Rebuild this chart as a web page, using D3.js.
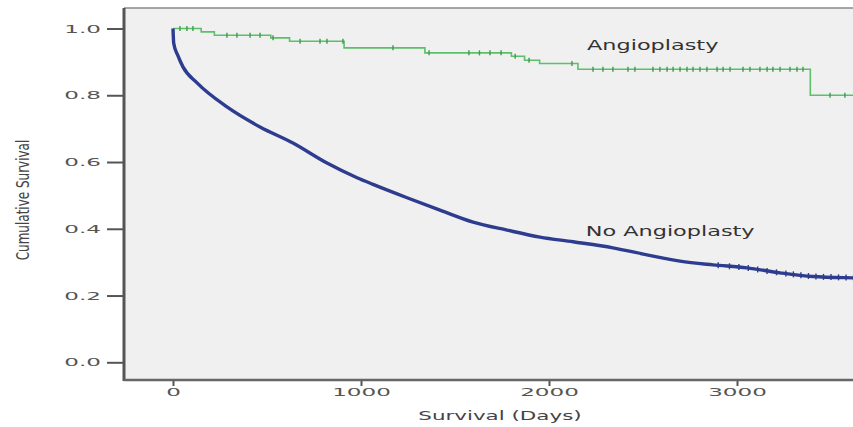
<!DOCTYPE html>
<html>
<head>
<meta charset="utf-8">
<script src="https://cdn.jsdelivr.net/npm/d3@7/dist/d3.min.js"></script>
<style>
  html, body { margin: 0; padding: 0; background: #fff; }
  svg { display: block; }
  text { font-family: "DejaVu Sans", sans-serif; }
</style>
</head>
<body>
<svg id="chart" width="853" height="427"></svg>
<script>
// Kaplan-Meier survival estimates (days, cumulative survival)
const angioplastyDays   = [0, 150, 220, 520, 620, 910, 1340, 1800, 1870, 1950, 2154, 3390, 3700];
const angioplastySurv   = [1.0, 0.99, 0.98, 0.972, 0.962, 0.942, 0.927, 0.917, 0.905, 0.895, 0.878, 0.80, 0.80];
const angioplastyCensor = [37, 74, 106, 287, 340, 410, 463, 532, 676, 782, 819, 904, 1170, 1362, 1574, 1630,
  1686, 1745, 1820, 1894, 2122, 2234, 2287, 2340, 2420, 2457, 2553, 2590, 2628, 2660, 2697, 2734, 2766,
  2803, 2840, 2894, 2926, 2963, 3032, 3069, 3122, 3160, 3191, 3229, 3282, 3319, 3351, 3495, 3574];

const noAngioDays = [0, 4, 25, 53, 128, 287, 463, 638, 819, 979, 1064, 1245, 1420, 1596, 1777, 1952,
  2128, 2340, 2521, 2697, 2872, 3053, 3229, 3404, 3617, 3700];
const noAngioSurv = [1.0, 0.955, 0.92, 0.885, 0.837, 0.765, 0.705, 0.657, 0.597, 0.553, 0.533, 0.493,
  0.456, 0.42, 0.396, 0.375, 0.361, 0.343, 0.322, 0.303, 0.292, 0.283, 0.268, 0.257, 0.253, 0.252];
const noAngioCensor = [4, 12, 2900, 2960, 3010, 3060, 3110, 3160, 3210, 3260, 3300, 3340, 3380, 3420,
  3460, 3500, 3540, 3580, 3620];

const yTicks = [0, 0.2, 0.4, 0.6, 0.8, 1.0];
const xTicks = [0, 1000, 2000, 3000];
const seriesLabels = ["Angioplasty", "No Angioplasty"];
const labelPos = [[2202, 0.936], [2195, 0.378]];

const svg = d3.select("#chart");
const plot = { left: 124, top: 8, right: 900, bottom: 380 };

const x = d3.scaleLinear().domain([0, 4000]).range([173, 925]);
const y = d3.scaleLinear().domain([0, 1]).range([362.3, 28.5]);

// plot background
svg.append("rect")
  .attr("x", plot.left).attr("y", plot.top)
  .attr("width", plot.right - plot.left).attr("height", plot.bottom - plot.top)
  .attr("fill", "#f0f0f0");

// top frame line
svg.append("line")
  .attr("x1", plot.left).attr("x2", plot.right)
  .attr("y1", plot.top).attr("y2", plot.top)
  .attr("stroke", "#8a8a8a").attr("stroke-width", 1.5);

const tickStretch = 2.1;

// y axis
const yAxis = svg.append("g")
  .attr("transform", `translate(${plot.left},0)`)
  .call(d3.axisLeft(y).tickValues(yTicks).tickFormat(d3.format(".1f")).tickSize(17).tickSizeOuter(0).tickPadding(6));
yAxis.select(".domain").remove();
yAxis.selectAll(".tick line").attr("stroke", "#555").attr("stroke-width", 2);
yAxis.selectAll(".tick text")
  .attr("x", 0)
  .attr("transform", `translate(-23,0) scale(${tickStretch},1)`)
  .attr("fill", "#555").style("font-size", "11px").style("font-family", "DejaVu Sans, sans-serif");

// x axis
const xAxis = svg.append("g")
  .attr("transform", `translate(0,${plot.bottom})`)
  .call(d3.axisBottom(x).tickValues(xTicks).tickFormat(d3.format("d")).tickSize(6).tickSizeOuter(0).tickPadding(2));
xAxis.select(".domain").remove();
xAxis.selectAll(".tick line").attr("stroke", "#555").attr("stroke-width", 2);
// labels are centred on x=0 of each tick, so a horizontal stretch keeps them centred
xAxis.selectAll(".tick text")
  .attr("transform", `scale(${tickStretch},1)`)
  .attr("fill", "#555").style("font-size", "11px").style("font-family", "DejaVu Sans, sans-serif");

// axis lines (left and bottom)
svg.append("line")
  .attr("x1", plot.left).attr("x2", plot.left)
  .attr("y1", plot.top).attr("y2", plot.bottom + 1)
  .attr("stroke", "#555").attr("stroke-width", 3);
svg.append("line")
  .attr("x1", plot.left).attr("x2", plot.right)
  .attr("y1", plot.bottom).attr("y2", plot.bottom)
  .attr("stroke", "#666").attr("stroke-width", 2.5);

// survival curves, clipped to the plot area
svg.append("clipPath").attr("id", "plotClip")
  .append("rect").attr("x", plot.left + 1).attr("y", plot.top)
  .attr("width", plot.right - plot.left).attr("height", plot.bottom - plot.top);

const g = svg.append("g").attr("clip-path", "url(#plotClip)");

const noAngio = noAngioDays.map((d, i) => [d, noAngioSurv[i]]);
const angio = angioplastyDays.map((d, i) => [d, angioplastySurv[i]]);

const blueLine = d3.line().x(d => x(d[0])).y(d => y(d[1])).curve(d3.curveMonotoneX);
const greenLine = d3.line().x(d => x(d[0])).y(d => y(d[1])).curve(d3.curveStepAfter);

// curve value at time t, used to sit censor marks on their curve
function stepValue(days, surv, t) {
  let v = surv[0];
  for (let i = 0; i < days.length; i++) { if (days[i] <= t) v = surv[i]; }
  return v;
}
function smoothValue(days, surv, t) {
  for (let i = 1; i < days.length; i++) {
    if (t <= days[i]) {
      const f = (t - days[i - 1]) / (days[i] - days[i - 1]);
      return surv[i - 1] + f * (surv[i] - surv[i - 1]);
    }
  }
  return surv[surv.length - 1];
}

g.append("path").datum(angio)
  .attr("d", greenLine)
  .attr("fill", "none").attr("stroke", "#5cbf6a").attr("stroke-width", 1.6);

g.selectAll(".censorA").data(angioplastyCensor).enter().append("line")
  .attr("x1", d => x(d)).attr("x2", d => x(d))
  .attr("y1", d => y(stepValue(angioplastyDays, angioplastySurv, d)) - 2.5)
  .attr("y2", d => y(stepValue(angioplastyDays, angioplastySurv, d)) + 2.5)
  .attr("stroke", "#3f9a4c").attr("stroke-width", 1.4);

g.append("path").datum(noAngio)
  .attr("d", blueLine)
  .attr("fill", "none").attr("stroke", "#2d3c8e").attr("stroke-width", 3.4)
  .attr("stroke-linejoin", "round");

g.selectAll(".censorB").data(noAngioCensor).enter().append("line")
  .attr("x1", d => x(d)).attr("x2", d => x(d))
  .attr("y1", d => y(smoothValue(noAngioDays, noAngioSurv, d)) - 3)
  .attr("y2", d => y(smoothValue(noAngioDays, noAngioSurv, d)) + 3)
  .attr("stroke", "#2d3c8e").attr("stroke-width", 1.4);

// curve labels
const labelStretch = 1.6;
seriesLabels.forEach((s, i) => {
  svg.append("text")
    .attr("transform", `translate(${x(labelPos[i][0])},${y(labelPos[i][1])}) scale(${labelStretch},1)`)
    .attr("fill", "#333").style("font-size", "14px")
    .text(s);
});

// axis titles
svg.append("text")
  .attr("transform", `translate(500,420) scale(1.65,1)`)
  .attr("text-anchor", "middle").attr("fill", "#444").style("font-size", "13px")
  .text("Survival (Days)");

svg.append("text")
  .attr("transform", `translate(29,200) rotate(-90) scale(1,1.5)`)
  .attr("text-anchor", "middle").attr("fill", "#444").style("font-size", "12px")
  .text("Cumulative Survival");
</script>
</body>
</html>
